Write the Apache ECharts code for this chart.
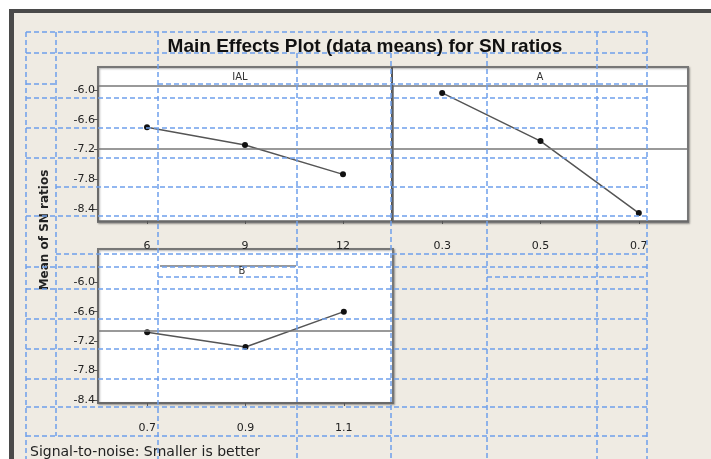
<!DOCTYPE html>
<html>
<head>
<meta charset="utf-8">
<title>Main Effects Plot for SN ratios</title>
<script src="https://cdn.jsdelivr.net/npm/echarts@6/dist/echarts.min.js"></script>
<style>
  html, body { margin: 0; padding: 0; background: #fff; }
  #chart { width: 711px; height: 459px; }
</style>
</head>
<body>
<div id="chart"></div>
<script>
// factor levels and mean SN ratio per level
const ialLevels = ['6', '9', '12'];
const ialMeans = [-6.75, -7.11, -7.70];
const aLevels = ['0.3', '0.5', '0.7'];
const aMeans = [-6.06, -7.03, -8.48];
const bLevels = ['0.7', '0.9', '1.1'];
const bMeans = [-7.02, -7.32, -6.60];
const yTicks = [-8.4, -7.8, -7.2, -6.6, -6.0];

// blue dashed table overlay (page layout, not data)
const overlayRows = [
  [32, 26, 647], [53, 26, 647], [84, 26, 56], [84, 158, 647], [98, 26, 647],
  [128, 26, 647], [158, 26, 647], [187, 56, 647], [216, 26, 647], [254, 56, 647],
  [267, 26, 647], [277, 158, 297], [277, 487, 647], [289, 26, 647], [319, 26, 647],
  [349, 26, 647], [379, 26, 647], [407, 26, 647], [436, 26, 647]
];
const overlayCols = [
  [26, 32, 459], [56, 32, 436], [158, 32, 459], [297, 53, 459],
  [391, 53, 459], [487, 53, 459], [597, 32, 459], [647, 32, 459]
];

const chart = echarts.init(document.getElementById('chart'));

const FONT = 'DejaVu Sans';
const blue = '#6fa0ec';

function yAxisFor(idx, min, max, showLabels) {
  return {
    type: 'value', gridIndex: idx, min, max,
    axisLine: { show: true, lineStyle: { color: '#666', width: 1.5 } },
    axisTick: { show: showLabels, customValues: yTicks, length: 4, lineStyle: { color: '#555' } },
    axisLabel: { show: showLabels, customValues: yTicks, margin: 3, color: '#222',
      fontFamily: FONT, fontSize: 11, formatter: v => v.toFixed(1) },
    splitLine: { show: false }
  };
}

function xAxisFor(idx, levels) {
  return {
    type: 'category', gridIndex: idx, data: levels, boundaryGap: true,
    axisLine: { show: true, lineStyle: { color: '#666', width: 1.5 } },
    axisTick: { show: true, alignWithLabel: true, length: 3, lineStyle: { color: '#555' } },
    axisLabel: { margin: 20, color: '#222', fontFamily: FONT, fontSize: 11 },
    splitLine: { show: false }
  };
}

function effectSeries(idx, data) {
  return {
    type: 'line', xAxisIndex: idx, yAxisIndex: idx, data,
    symbol: 'circle', symbolSize: 6,
    itemStyle: { color: '#111' },
    lineStyle: { color: '#555', width: 1.5 },
    markLine: {
      silent: true, symbol: 'none', label: { show: false },
      lineStyle: { color: '#777', width: 1.5, type: 'solid' },
      data: [{ type: 'average' }]
    },
    z: 3
  };
}

const overlay = [];
overlayRows.forEach(r => overlay.push({
  type: 'line', z: 100, silent: true,
  shape: { x1: r[1], y1: r[0], x2: r[2], y2: r[0] },
  style: { stroke: blue, lineWidth: 1.5, lineDash: [5, 3] }
}));
overlayCols.forEach(c => overlay.push({
  type: 'line', z: 100, silent: true,
  shape: { x1: c[0], y1: c[1], x2: c[0], y2: c[2] },
  style: { stroke: blue, lineWidth: 1.5, lineDash: [5, 3] }
}));

const option = {
  animation: false,
  backgroundColor: '#efebe3',
  title: {
    text: 'Main Effects Plot (data means) for SN ratios',
    left: 360, top: 32, textAlign: 'center',
    textStyle: { fontFamily: 'Liberation Sans', fontWeight: 'bold', fontSize: 19, color: '#111' }
  },
  grid: [
    { left: 98, top: 86, width: 294, height: 135 },
    { left: 393, top: 86, width: 295, height: 135 },
    { left: 98, top: 266, width: 295, height: 137 }
  ],
  xAxis: [xAxisFor(0, ialLevels), xAxisFor(1, aLevels), xAxisFor(2, bLevels)],
  yAxis: [
    yAxisFor(0, -8.64, -5.92, true),
    yAxisFor(1, -8.64, -5.92, false),
    yAxisFor(2, -8.46, -5.67, true)
  ],
  series: [effectSeries(0, ialMeans), effectSeries(1, aMeans), effectSeries(2, bMeans)],
  graphic: [
    // window frame
    { type: 'rect', z: -20, shape: { x: 0, y: 0, width: 711, height: 10 }, style: { fill: '#fff' } },
    { type: 'rect', z: -20, shape: { x: 0, y: 0, width: 9, height: 459 }, style: { fill: '#fff' } },
    { type: 'rect', z: -19, shape: { x: 9, y: 9, width: 702, height: 4 }, style: { fill: '#4a4a4a' } },
    { type: 'rect', z: -19, shape: { x: 9, y: 9, width: 5, height: 450 }, style: { fill: '#4a4a4a' } },
    // panels
    { type: 'rect', z: -10, shape: { x: 98, y: 67, width: 590, height: 155 },
      style: { fill: '#fff', stroke: '#777', lineWidth: 2, shadowColor: 'rgba(0,0,0,0.3)', shadowBlur: 2, shadowOffsetX: 1, shadowOffsetY: 1 } },
    { type: 'line', z: -9, shape: { x1: 98, y1: 86, x2: 688, y2: 86 }, style: { stroke: '#777', lineWidth: 1.5 } },
    { type: 'line', z: -9, shape: { x1: 392, y1: 67, x2: 392, y2: 222 }, style: { stroke: '#555', lineWidth: 2 } },
    { type: 'rect', z: -10, shape: { x: 98, y: 249, width: 295, height: 154 },
      style: { fill: '#fff', stroke: '#777', lineWidth: 2, shadowColor: 'rgba(0,0,0,0.3)', shadowBlur: 2, shadowOffsetX: 1, shadowOffsetY: 1 } },
    { type: 'line', z: -9, shape: { x1: 160, y1: 266, x2: 296, y2: 266 }, style: { stroke: '#777', lineWidth: 1.5 } },
    // strip labels
    { type: 'text', z: 5, style: { x: 240, y: 77, text: 'IAL', textAlign: 'center', textVerticalAlign: 'middle', font: '10px "DejaVu Sans"', fill: '#333' } },
    { type: 'text', z: 5, style: { x: 540, y: 77, text: 'A', textAlign: 'center', textVerticalAlign: 'middle', font: '10px "DejaVu Sans"', fill: '#333' } },
    { type: 'text', z: 5, style: { x: 242, y: 271, text: 'B', textAlign: 'center', textVerticalAlign: 'middle', font: '10px "DejaVu Sans"', fill: '#333' } },
    // y axis name
    { type: 'text', z: 5, x: 45, y: 230, rotation: Math.PI / 2,
      style: { x: 0, y: 0, text: 'Mean of SN ratios', textAlign: 'center', textVerticalAlign: 'middle', font: 'bold 12px "DejaVu Sans"', fill: '#222' } },
    // footnote
    { type: 'text', z: 5, style: { x: 30, y: 452, text: 'Signal-to-noise: Smaller is better', textAlign: 'left', textVerticalAlign: 'middle', font: '14px "DejaVu Sans"', fill: '#222' } }
  ].concat(overlay)
};

chart.setOption(option);
</script>
</body>
</html>
